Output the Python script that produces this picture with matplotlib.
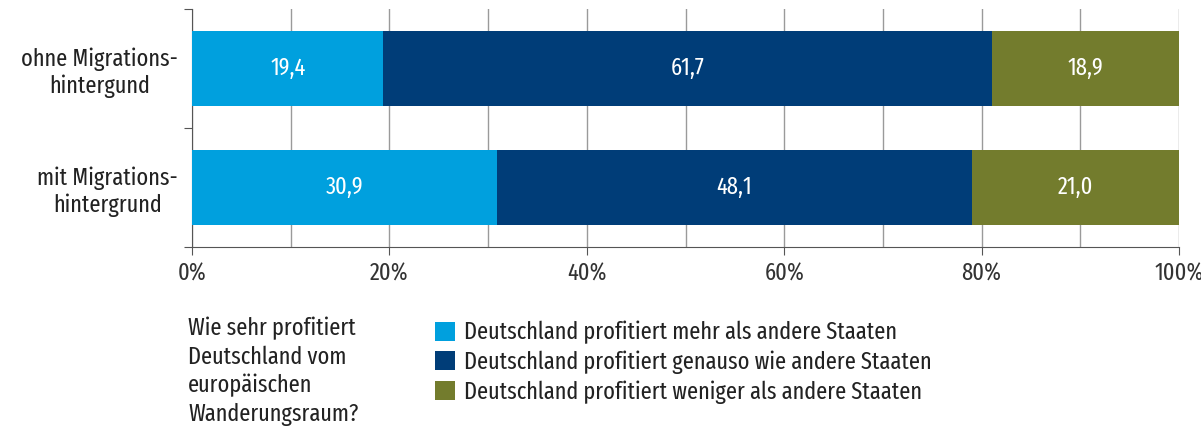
import matplotlib.pyplot as plt
from matplotlib.patches import Patch

plt.rcParams['font.family'] = ['Fira Sans Extra Condensed', 'DejaVu Sans']

# ========== Daten ==========
groups = ["ohne Migrations-\nhintergund", "mit Migrations-\nhintergrund"]
series_labels = ["Deutschland profitiert mehr als andere Staaten",
                 "Deutschland profitiert genauso wie andere Staaten",
                 "Deutschland profitiert weniger als andere Staaten"]
mehr = [19.4, 30.9]
genauso = [61.7, 48.1]
weniger = [18.9, 21.0]
colors = ["#00A0DE", "#003D78", "#737C2D"]
question = "Wie sehr profitiert\nDeutschland vom\neuropäischen\nWanderungsraum?"

FS = 17.5

fig = plt.figure(figsize=(12.01, 4.38), dpi=100)
ax = fig.add_axes([192 / 1201, 1 - 247 / 438, 987 / 1201, 238 / 438])

y = [0, 1]  # oben -> unten, Achse invertiert
left = [0.0, 0.0]
for vals, col in zip([mehr, genauso, weniger], colors):
    ax.barh(y, vals, left=left, height=0.625, color=col, zorder=3)
    for yi, v, l in zip(y, vals, left):
        ax.text(l + v / 2, yi, f"{v:.1f}".replace(".", ","), ha='center', va='center',
                color='white', fontsize=FS, zorder=4)
    left = [a + b for a, b in zip(left, vals)]

ax.set_xlim(0, 100)
ax.set_ylim(1.5, -0.5)

# Gitter alle 10 %
ax.set_xticks(range(0, 101, 20))
ax.set_xticklabels([f"{t}%" for t in range(0, 101, 20)], fontsize=FS, color='#333333')
ax.set_xticks(range(0, 101, 10), minor=True)
ax.grid(axis='x', which='both', color='#9a9a9a', linewidth=1, zorder=0)
ax.tick_params(axis='x', which='major', length=6, color='#555555', pad=5)
ax.tick_params(axis='x', which='minor', length=0)

# y-Achse: Striche an Grenzen, Beschriftung mittig
ax.set_yticks([-0.5, 0.5, 1.5])
ax.set_yticklabels([])
ax.set_yticks(y, minor=True)
ax.set_yticklabels(groups, minor=True, fontsize=FS, color='#222222', multialignment='center')
ax.tick_params(axis='y', which='major', length=6, color='#555555')
ax.tick_params(axis='y', which='minor', length=0, pad=10)

for s in ['top', 'right']:
    ax.spines[s].set_visible(False)
for s in ['left', 'bottom']:
    ax.spines[s].set_color('#555555')

# Legende
fig.text(188 / 1201, 1 - 317 / 438, question, fontsize=FS, color='#222222',
         va='top', ha='left', linespacing=1.28)
handles = [Patch(facecolor=c, edgecolor='none') for c in colors]
fig.legend(handles, series_labels, loc='upper left', bbox_to_anchor=(423 / 1201, 1 - 309 / 438),
           frameon=False, fontsize=FS, handlelength=0.8, handleheight=0.85,
           handletextpad=0.4, labelspacing=0.25, borderpad=0, labelcolor='#222222')

fig.savefig("out.png", dpi=100)
